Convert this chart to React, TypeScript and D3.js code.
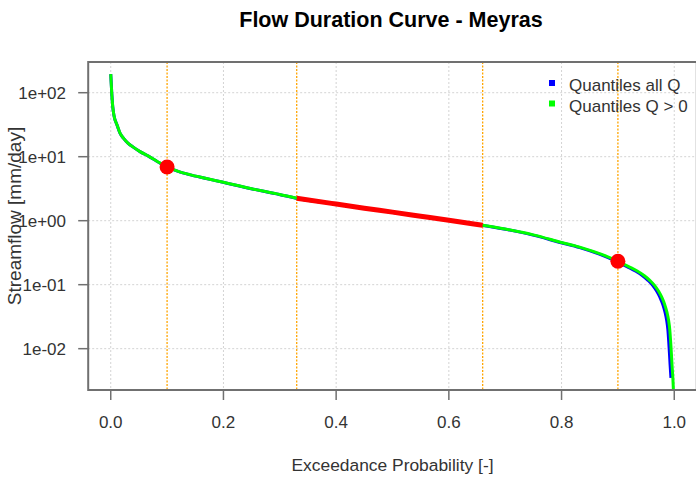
import React from "react";
import * as d3 from "d3";

// Exceedance probability and streamflow for quantiles of Q > 0 (green)
const pPos = [0, 0.0018, 0.0036, 0.006, 0.011, 0.0165, 0.0225, 0.031, 0.04, 0.052, 0.067, 0.082, 0.1, 0.12, 0.14, 0.17, 0.2, 0.25, 0.3, 0.33, 0.4, 0.45, 0.5, 0.55, 0.6, 0.66, 0.7, 0.75, 0.8, 0.835, 0.87, 0.9, 0.92, 0.935, 0.947, 0.957, 0.965, 0.972, 0.978, 0.983, 0.987, 0.99, 0.992, 0.9935, 0.995, 0.996, 0.9975, 1.0];
const qPos = [195, 98, 60, 43, 31.6, 23.4, 19.5, 16.2, 14.1, 12.0, 10.2, 8.5, 6.9, 5.9, 5.25, 4.57, 3.98, 3.16, 2.57, 2.24, 1.82, 1.57, 1.36, 1.175, 1.015, 0.85, 0.74, 0.6, 0.457, 0.38, 0.3, 0.232, 0.19, 0.162, 0.138, 0.116, 0.0977, 0.0794, 0.0631, 0.049, 0.0372, 0.0275, 0.02, 0.0132, 0.0081, 0.0056, 0.0035, 0.001];

// Quantiles of all Q (blue); zero flows are not drawable on a log axis
const pAll = [0, 0.0018, 0.0036, 0.006, 0.011, 0.0164, 0.0224, 0.0309, 0.0399, 0.0518, 0.0668, 0.0817, 0.0997, 0.1196, 0.1395, 0.1694, 0.1993, 0.2492, 0.299, 0.3289, 0.3986, 0.4485, 0.4983, 0.5481, 0.598, 0.6578, 0.6976, 0.7475, 0.7973, 0.8322, 0.867, 0.8969, 0.9169, 0.9318, 0.9438, 0.9538, 0.9617, 0.9687, 0.9747, 0.9797, 0.9836, 0.9866, 0.9886, 0.9901, 0.9916, 0.9926, 0.9941];
const qAll = [195, 98, 60, 43, 31.6, 23.4, 19.5, 16.2, 14.1, 12.0, 10.2, 8.5, 6.9, 5.9, 5.25, 4.57, 3.98, 3.16, 2.57, 2.24, 1.82, 1.57, 1.36, 1.175, 1.015, 0.85, 0.74, 0.6, 0.457, 0.38, 0.3, 0.232, 0.19, 0.162, 0.138, 0.116, 0.0977, 0.0794, 0.0631, 0.049, 0.0372, 0.0275, 0.02, 0.0132, 0.0081, 0.0056, 0.0035];

// Highlighted points and segment limits
const markerP = [0.1, 0.9];
const markerQ = [6.9, 0.232];
const segmentLimits = [0.33, 0.66];
const refLines = [0.1, 0.33, 0.66, 0.9];

const xTicks = [0, 0.2, 0.4, 0.6, 0.8, 1.0];
const xTickLabels = ["0.0", "0.2", "0.4", "0.6", "0.8", "1.0"];
const yTicks = [0.01, 0.1, 1, 10, 100];
const yTickLabels = ["1e-02", "1e-01", "1e+00", "1e+01", "1e+02"];

const legendLabels = ["Quantiles all Q", "Quantiles Q > 0"];
const legendColors = ["#0000FF", "#00FF00"];

const W = 696;
const H = 480;
const L = 88.2, R = 696.8, T = 62, B = 390;
const FONT = "'Liberation Sans', Arial, Helvetica, sans-serif";

export default function App() {
  const x = d3.scaleLinear().domain([-0.04, 1.04]).range([L, R]);
  const lmin = Math.log10(d3.min(qAll) as number);
  const lmax = Math.log10(d3.max(qAll) as number);
  const ext = (lmax - lmin) * 0.04;
  const y = d3.scaleLog().domain([Math.pow(10, lmin - ext), Math.pow(10, lmax + ext)]).range([B, T]);

  const line = d3
    .line<[number, number]>()
    .x((d) => x(d[0]))
    .y((d) => y(d[1]))
    .curve(d3.curveMonotoneX);

  const allPts: [number, number][] = pAll.map((p, i) => [p, qAll[i]]);
  const posPts: [number, number][] = pPos.map((p, i) => [p, qPos[i]]);
  const segPts = posPts.filter((d) => d[0] >= segmentLimits[0] && d[0] <= segmentLimits[1]);

  const textCol = "#333";
  const axisCol = "#707070";

  return (
    <svg
      width={W}
      height={H}
      style={{ position: "absolute", left: 0, top: 0, background: "#fff" }}
      fontFamily={FONT}
    >
      <defs>
        <clipPath id="plotclip">
          <rect x={L} y={T} width={R - L} height={B - T} />
        </clipPath>
      </defs>
      <rect x={0} y={0} width={W} height={H} fill="#fff" />
      {/* grid */}
      <g stroke="#d3d3d3" strokeWidth={1} strokeDasharray="2,2">
        {xTicks.map((t) => (
          <line key={"gx" + t} x1={x(t)} x2={x(t)} y1={T} y2={B} />
        ))}
        {yTicks.map((t) => (
          <line key={"gy" + t} x1={L} x2={R} y1={y(t)} y2={y(t)} />
        ))}
      </g>
      {/* reference lines */}
      <g stroke="#FFA500" strokeWidth={1.3} strokeDasharray="2,1.5">
        {refLines.map((t) => (
          <line key={"r" + t} x1={x(t)} x2={x(t)} y1={T} y2={B} />
        ))}
      </g>
      <g clipPath="url(#plotclip)" fill="none" strokeLinejoin="round" strokeLinecap="butt">
        <path d={line(allPts) || ""} stroke="#0000FF" strokeWidth={3} />
        <path d={line(posPts) || ""} stroke="#00FF00" strokeWidth={3} />
        <path d={line(segPts) || ""} stroke="#FF0000" strokeWidth={5} />
        {markerP.map((p, i) => (
          <circle key={"m" + i} cx={x(p)} cy={y(markerQ[i])} r={7.5} fill="#FF0000" stroke="none" />
        ))}
      </g>
      {/* box */}
      <rect x={L} y={T} width={R - L} height={B - T} fill="none" stroke={axisCol} strokeWidth={2} />
      {/* ticks */}
      <g stroke={axisCol} strokeWidth={1.5}>
        {xTicks.map((t) => (
          <line key={"xt" + t} x1={x(t)} x2={x(t)} y1={B} y2={B + 10} />
        ))}
        {yTicks.map((t) => (
          <line key={"yt" + t} x1={L - 10} x2={L} y1={y(t)} y2={y(t)} />
        ))}
      </g>
      <g fill={textCol} fontSize={17}>
        {xTicks.map((t, i) => (
          <text key={"xl" + t} x={x(t)} y={428} textAnchor="middle">
            {xTickLabels[i]}
          </text>
        ))}
        {yTicks.map((t, i) => (
          <text key={"yl" + t} x={66} y={y(t)} dy="0.35em" textAnchor="end">
            {yTickLabels[i]}
          </text>
        ))}
        <text x={(L + R) / 2} y={471} textAnchor="middle" fontSize={17.4}>
          Exceedance Probability [-]
        </text>
        <text transform={`translate(21,216) rotate(-90)`} textAnchor="middle" fontSize={19}>
          Streamflow [mm/day]
        </text>
      </g>
      <text x={391} y={27} textAnchor="middle" fontSize={21.5} fontWeight="bold" fill="#000">
        Flow Duration Curve - Meyras
      </text>
      {/* legend */}
      <g fontSize={17} fill={textCol}>
        {legendLabels.map((lab, i) => (
          <g key={lab}>
            <rect x={549} y={80 + i * 20.5} width={6} height={6} fill={legendColors[i]} />
            <text x={569} y={90.5 + i * 21}>
              {lab}
            </text>
          </g>
        ))}
      </g>
    </svg>
  );
}
